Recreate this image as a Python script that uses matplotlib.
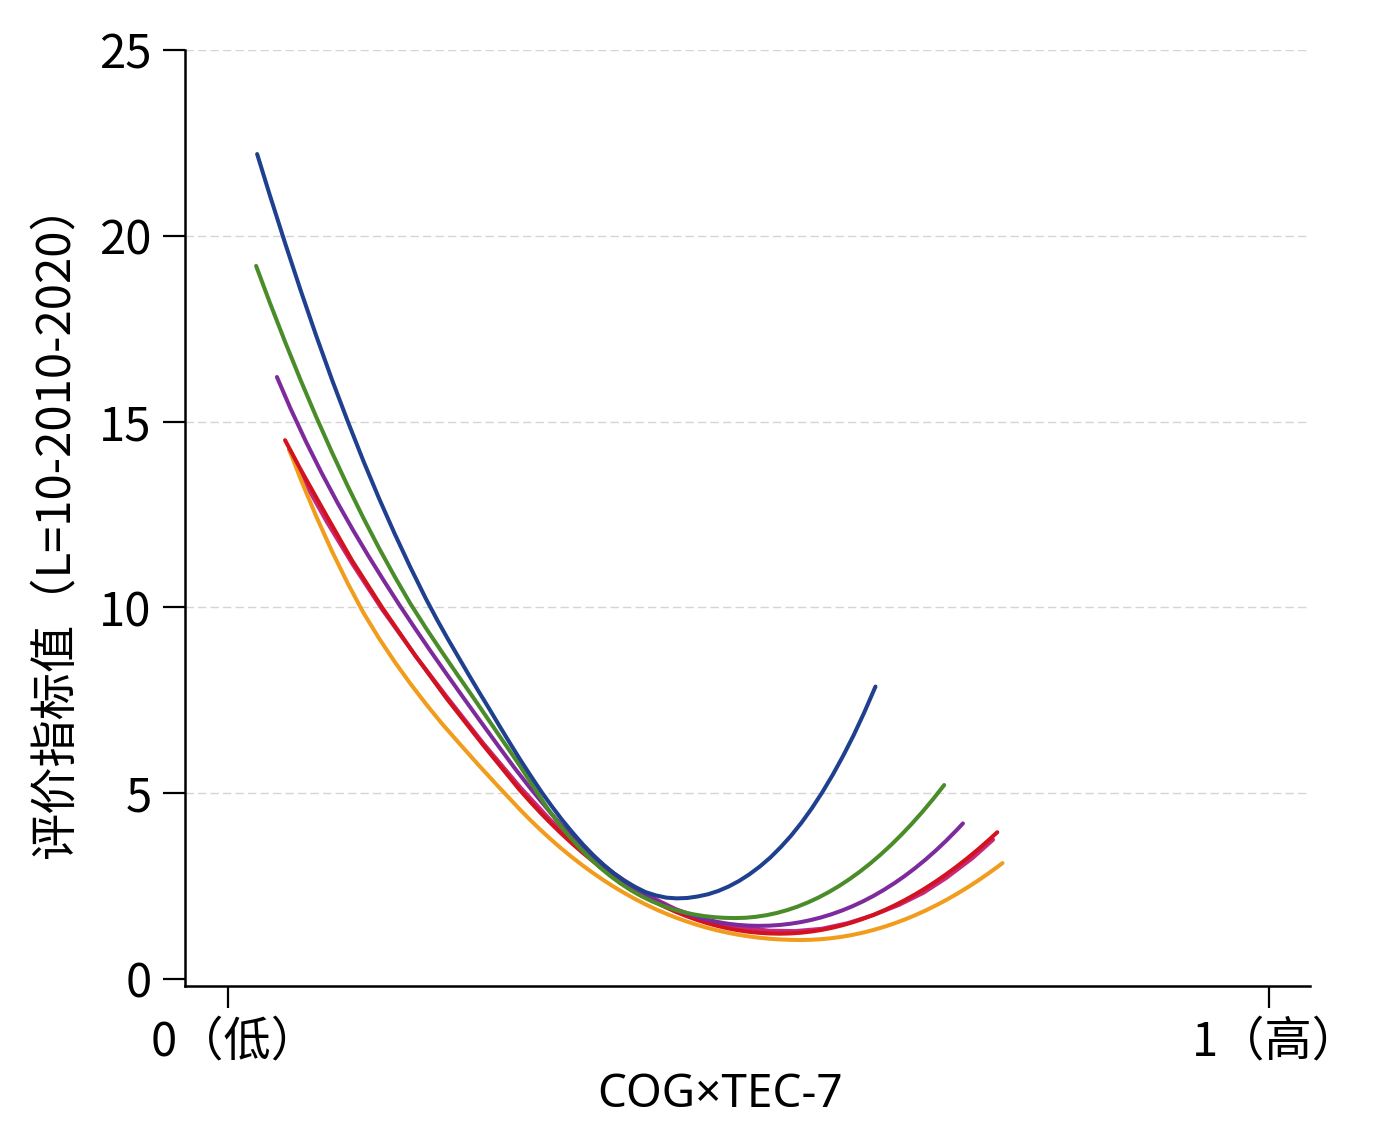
import matplotlib
matplotlib.use("Agg")
import matplotlib.pyplot as plt
from matplotlib.transforms import ScaledTranslation

plt.rcParams['font.family'] = ['Noto Sans CJK SC', 'DejaVu Sans']

# ---- data ----
blue_x = [0.028, 0.040, 0.055, 0.070, 0.085, 0.100, 0.115, 0.130, 0.145, 0.160, 0.175, 0.190,
          0.201, 0.211, 0.221, 0.231, 0.241, 0.251, 0.261, 0.271, 0.281, 0.291, 0.301, 0.311,
          0.321, 0.331, 0.341, 0.351, 0.361, 0.371, 0.381, 0.391, 0.401, 0.411, 0.421, 0.431,
          0.441, 0.451, 0.461, 0.471, 0.481, 0.491, 0.501, 0.511, 0.521, 0.531, 0.541, 0.551,
          0.561, 0.571, 0.581, 0.591, 0.601, 0.611, 0.622]
blue_y = [22.2, 21.11, 19.79, 18.515, 17.29, 16.12, 15.01, 13.945, 12.94, 11.99, 11.09, 10.24,
          9.66, 9.16, 8.68, 8.2, 7.73, 7.27, 6.80, 6.34, 5.89, 5.46, 5.04, 4.65,
          4.28, 3.94, 3.62, 3.33, 3.07, 2.84, 2.64, 2.48, 2.34, 2.25, 2.19, 2.17,
          2.18, 2.22, 2.28, 2.37, 2.49, 2.64, 2.82, 3.03, 3.27, 3.55, 3.86, 4.21,
          4.60, 5.03, 5.50, 6.01, 6.56, 7.16, 7.87]

green_x = [0.027, 0.040, 0.055, 0.070, 0.085, 0.100, 0.115, 0.130, 0.145, 0.160, 0.175, 0.190,
           0.205, 0.220, 0.235, 0.250, 0.265, 0.280,
           0.297, 0.307, 0.317, 0.327, 0.337, 0.347, 0.357, 0.367, 0.377, 0.387,
           0.397, 0.407, 0.417, 0.427, 0.437, 0.447, 0.457, 0.467, 0.477, 0.487,
           0.497, 0.507, 0.517, 0.527, 0.537, 0.547, 0.557, 0.567, 0.577, 0.587,
           0.597, 0.607, 0.617, 0.627, 0.637, 0.647, 0.657, 0.667, 0.677, 0.688]
green_y = [19.19, 18.215, 17.135, 16.10, 15.11, 14.165, 13.265, 12.41, 11.60, 10.835, 10.11, 9.45,
           8.82, 8.205, 7.60, 6.985, 6.37, 5.755,
           5.02, 4.59, 4.212, 3.867, 3.553, 3.267, 3.009, 2.778, 2.572, 2.39,
           2.231, 2.094, 1.978, 1.881, 1.803, 1.741, 1.695, 1.664, 1.646, 1.64,
           1.648, 1.674, 1.716, 1.776, 1.853, 1.947, 2.06, 2.189, 2.337, 2.503,
           2.687, 2.889, 3.11, 3.35, 3.608, 3.885, 4.181, 4.496, 4.83, 5.22]

purple_x = [0.047, 0.060, 0.075, 0.090, 0.105, 0.120, 0.135, 0.150, 0.165, 0.180, 0.195, 0.210,
            0.225, 0.240, 0.260, 0.275,
            0.29, 0.30, 0.31, 0.32, 0.33, 0.34, 0.35, 0.36, 0.37, 0.38, 0.39, 0.40,
            0.41, 0.42, 0.43, 0.44, 0.45, 0.46, 0.47, 0.48, 0.49, 0.50, 0.51,
            0.52, 0.53, 0.54, 0.55, 0.56, 0.57, 0.58, 0.59, 0.60, 0.61,
            0.62, 0.63, 0.64, 0.65, 0.66, 0.67, 0.68, 0.69, 0.70, 0.706]
purple_y = [16.2, 15.355, 14.455, 13.615, 12.827, 12.085, 11.38, 10.705, 10.052, 9.422, 8.807, 8.207,
            7.615, 7.03, 6.26, 5.69,
            5.15, 4.808, 4.47, 4.152, 3.854, 3.574, 3.314, 3.073, 2.849, 2.643, 2.455, 2.284,
            2.13, 1.992, 1.87, 1.764, 1.673, 1.598, 1.536, 1.489, 1.456, 1.437, 1.43,
            1.436, 1.454, 1.486, 1.53, 1.588, 1.659, 1.745, 1.845, 1.96, 2.09,
            2.236, 2.398, 2.576, 2.771, 2.983, 3.212, 3.459, 3.724, 4.008, 4.187]

red_x = [0.0548, 0.070, 0.090, 0.119, 0.148, 0.180, 0.210, 0.245,
         0.28, 0.29, 0.30, 0.31, 0.32, 0.33, 0.34, 0.35, 0.36, 0.37, 0.38, 0.39, 0.40,
         0.41, 0.42, 0.43, 0.44, 0.45, 0.46, 0.47, 0.48, 0.49, 0.50, 0.51, 0.52, 0.53,
         0.54, 0.55, 0.56, 0.57, 0.58, 0.59, 0.60, 0.61, 0.62, 0.63,
         0.64, 0.65, 0.66, 0.67, 0.68, 0.69, 0.70, 0.71, 0.72, 0.73, 0.739]
red_y = [14.5, 13.7, 12.7, 11.27, 10.0, 8.7, 7.55, 6.3,
         5.095, 4.78, 4.479, 4.192, 3.919, 3.66, 3.415, 3.183, 2.966, 2.761, 2.57, 2.392, 2.227,
         2.075, 1.936, 1.81, 1.696, 1.595, 1.506, 1.43, 1.365, 1.312, 1.272, 1.243, 1.226, 1.22,
         1.226, 1.245, 1.276, 1.32, 1.376, 1.445, 1.526, 1.62, 1.726, 1.845,
         1.976, 2.12, 2.276, 2.445, 2.626, 2.82, 3.026, 3.245, 3.476, 3.72, 3.95]

magenta_x = [0.0586, 0.075, 0.095, 0.120, 0.148, 0.180, 0.210, 0.245, 0.281, 0.310, 0.340, 0.370, 0.400,
             0.430, 0.460, 0.490, 0.520, 0.545, 0.570, 0.595, 0.620, 0.645, 0.668, 0.690, 0.715, 0.735]
magenta_y = [14.26, 13.3, 12.3, 11.15, 9.95, 8.7, 7.6, 6.35, 5.15, 4.27, 3.5, 2.85, 2.3,
             1.88, 1.58, 1.4, 1.3, 1.29, 1.35, 1.5, 1.72, 2.0, 2.32, 2.72, 3.25, 3.75]

orange_x = [0.0586, 0.070, 0.085, 0.100, 0.115, 0.130, 0.145, 0.160, 0.175, 0.190, 0.205, 0.220,
            0.240, 0.260,
            0.27, 0.28, 0.29, 0.30, 0.31, 0.32, 0.33, 0.34, 0.35,
            0.36, 0.37, 0.38, 0.39, 0.40, 0.41, 0.42, 0.43, 0.44, 0.45,
            0.46, 0.47, 0.48, 0.49, 0.50, 0.51, 0.52, 0.53, 0.54, 0.55,
            0.56, 0.57, 0.58, 0.59, 0.60, 0.61, 0.62, 0.63, 0.64, 0.65,
            0.66, 0.67, 0.68, 0.69, 0.70, 0.71, 0.72, 0.73, 0.74, 0.744]
orange_y = [14.26, 13.439, 12.434, 11.504, 10.649, 9.861, 9.171, 8.541, 7.956, 7.408, 6.89, 6.41,
            5.78, 5.17,
            4.873, 4.574, 4.289, 4.019, 3.762, 3.518, 3.288, 3.071, 2.866,
            2.674, 2.494, 2.326, 2.169, 2.024, 1.89, 1.768, 1.655, 1.554, 1.462,
            1.38, 1.308, 1.246, 1.192, 1.148, 1.112, 1.084, 1.065, 1.054, 1.05,
            1.0555, 1.072, 1.0995, 1.138, 1.1875, 1.248, 1.3195, 1.402, 1.4955, 1.60,
            1.7155, 1.842, 1.9795, 2.128, 2.2875, 2.458, 2.6395, 2.832, 3.0355, 3.12]

y_ticks = [0, 5, 10, 15, 20, 25]
x_ticks = [0, 1]
x_tick_labels = ['0（低）', '1（高）']
x_label = 'COG×TEC-7'
y_label = '评价指标值（L=10-2010-2020）'

series = [
    (magenta_x, magenta_y, '#c8287a'),
    (orange_x, orange_y, '#f19c1c'),
    (red_x, red_y, '#d3121f'),
    (purple_x, purple_y, '#7d2b9c'),
    (green_x, green_y, '#4a8c2a'),
    (blue_x, blue_y, '#1f3f8f'),
]
for xs, ys, _ in series:
    assert len(xs) == len(ys), (len(xs), len(ys))

fig = plt.figure(figsize=(13.75, 11.44), dpi=100)
ax = fig.add_axes([185/1375, 1 - 986/1144, (1310-185)/1375, (986-50)/1144])

for xs, ys, c in series:
    ax.plot(xs, ys, color=c, lw=2.9, solid_capstyle='round', solid_joinstyle='round')

ax.set_xlim(-0.0413, 1.0394)
ax.set_ylim(-0.188, 25)
ax.set_yticks(y_ticks)
ax.set_xticks(x_ticks)
ax.set_xticklabels(x_tick_labels)

for s in ['top', 'right']:
    ax.spines[s].set_visible(False)
for s in ['left', 'bottom']:
    ax.spines[s].set_linewidth(1.8)
    ax.spines[s].set_color('black')

ax.tick_params(axis='both', direction='out', length=16, width=1.6, labelsize=34, colors='black')
ax.tick_params(axis='y', pad=8)
ax.tick_params(axis='x', pad=7)

shift = ScaledTranslation(7/100, 0, fig.dpi_scale_trans)
for lab in ax.get_xticklabels():
    lab.set_transform(lab.get_transform() + shift)

ax.yaxis.grid(True, color='#d5d5d5', linestyle=(0, (6, 3)), linewidth=1.0)
ax.get_ygridlines()[0].set_visible(False)
ax.set_axisbelow(True)

ax.set_xlabel(x_label, fontsize=33, family=['Noto Sans', 'DejaVu Sans'])
ax.xaxis.set_label_coords(0.476, -0.092)
ax.set_ylabel(y_label, fontsize=34)
ax.yaxis.set_label_coords(-0.094, 0.499)

fig.savefig('out.png', dpi=100, facecolor='white')
